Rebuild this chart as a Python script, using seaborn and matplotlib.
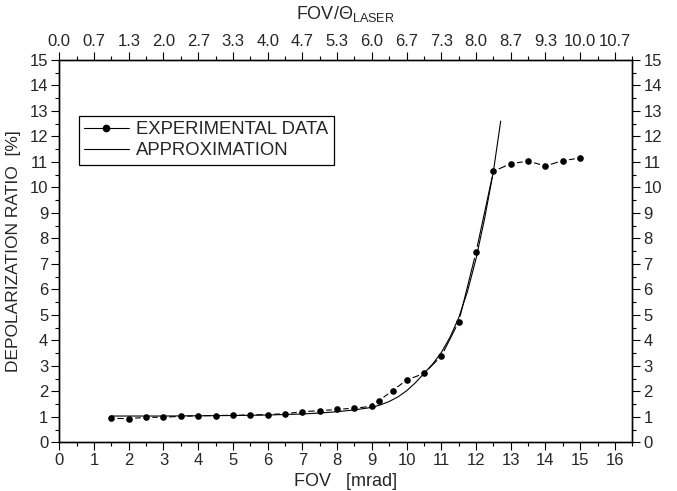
import matplotlib
matplotlib.use("Agg")
import matplotlib.pyplot as plt
from matplotlib.lines import Line2D
from matplotlib.ticker import MultipleLocator
import seaborn as sns
import pandas as pd

# ---- data ----
fov_exp = [1.5, 2.0, 2.5, 3.0, 3.5, 4.0, 4.5, 5.0, 5.5, 6.0, 6.5, 7.0, 7.5, 8.0,
           8.5, 9.0, 9.2, 9.6, 10.0, 10.5, 11.0, 11.5, 12.0, 12.5, 13.0, 13.5,
           14.0, 14.5, 15.0]
depol_exp = [0.94, 0.93, 0.98, 0.98, 1.02, 1.04, 1.05, 1.06, 1.07, 1.09, 1.12,
             1.20, 1.24, 1.29, 1.34, 1.41, 1.63, 2.03, 2.44, 2.70, 3.38, 4.72,
             7.46, 10.63, 10.93, 11.03, 10.84, 11.05, 11.15]

fov_fit = [1.5, 3.0, 4.0, 5.0, 6.0, 7.0, 7.5, 8.0, 8.5, 9.0, 9.25, 9.5, 9.75,
           10.0, 10.25, 10.5, 10.75, 11.0, 11.25, 11.5, 11.75, 12.0, 12.25,
           12.5, 12.71]
depol_fit = [1.03, 1.03, 1.04, 1.05, 1.07, 1.11, 1.15, 1.20, 1.27, 1.37, 1.47,
             1.60, 1.78, 2.02, 2.33, 2.70, 3.07, 3.52, 4.12, 4.88, 5.90, 7.20,
             8.80, 10.63, 12.60]

bottom_ticks = list(range(0, 17))
top_tick_labels = ["0.0", "0.7", "1.3", "2.0", "2.7", "3.3", "4.0", "4.7", "5.3",
                   "6.0", "6.7", "7.3", "8.0", "8.7", "9.3", "10.0", "10.7"]
y_ticks = list(range(0, 16))

legend_labels = ["EXPERIMENTAL DATA", "APPROXIMATION"]

# ---- style ----
sns.set_style("ticks")
plt.rcParams["font.family"] = ["Liberation Sans", "DejaVu Sans"]
plt.rcParams["mathtext.fontset"] = "custom"
plt.rcParams["mathtext.rm"] = "Liberation Sans"
plt.rcParams["mathtext.it"] = "Liberation Sans"
plt.rcParams["mathtext.sf"] = "Liberation Sans"

FS = 12

fig = plt.figure(figsize=(6.77, 4.91), dpi=100)
ax = fig.add_axes([0.0876, 0.0992, 0.934 - 0.0876, 0.878 - 0.0992])

df_exp = pd.DataFrame({"fov": fov_exp, "depol": depol_exp})
df_fit = pd.DataFrame({"fov": fov_fit, "depol": depol_fit})

# experimental line (with gaps around markers via white marker edges)
sns.lineplot(data=df_exp, x="fov", y="depol", ax=ax, color="black",
             linewidth=0.8, sort=False, zorder=2, legend=False)
sns.lineplot(data=df_exp, x="fov", y="depol", ax=ax, color="black",
             linewidth=0, marker="o", markersize=6.6, markerfacecolor="black",
             markeredgecolor="white", markeredgewidth=1.8, sort=False,
             zorder=3, legend=False)
# approximation
sns.lineplot(data=df_fit, x="fov", y="depol", ax=ax, color="black",
             linewidth=0.8, sort=False, zorder=4, legend=False)

ax.set_xlim(0, 16.5)
ax.set_ylim(0, 15)
ax.set_xticks(bottom_ticks)
ax.set_xticklabels([str(t) for t in bottom_ticks], fontsize=FS)
ax.set_yticks(y_ticks)
ax.set_yticklabels([str(t) for t in y_ticks], fontsize=FS)
ax.xaxis.set_minor_locator(MultipleLocator(0.5))
ax.yaxis.set_minor_locator(MultipleLocator(0.5))
ax.set_xlabel("FOV   [mrad]", fontsize=FS + 1, labelpad=3.5)
ax.set_ylabel("DEPOLARIZATION RATIO  [%]", fontsize=FS + 0.5)
ax.yaxis.set_label_coords(-0.066, 0.5)

for sp in ax.spines.values():
    sp.set_visible(True)
    sp.set_linewidth(0.9)
    sp.set_color("black")

tick_kw_major = dict(which="major", direction="out", length=5.5, width=0.8,
                     color="black", pad=2.5)
tick_kw_minor = dict(which="minor", direction="out", length=3, width=0.8,
                     color="black")
ax.tick_params(**tick_kw_major)
ax.tick_params(**tick_kw_minor)

# top axis
axt = ax.twiny()
axt.set_xlim(ax.get_xlim())
axt.set_xticks(bottom_ticks)
axt.set_xticklabels(top_tick_labels, fontsize=FS)
axt.xaxis.set_minor_locator(MultipleLocator(0.5))
axt.tick_params(**tick_kw_major)
axt.tick_params(**tick_kw_minor)
axt.set_xlabel(r"FOV/$\Theta_{\rm LASER}$", fontsize=FS + 1, labelpad=11)

# right axis
axr = ax.twinx()
axr.set_ylim(ax.get_ylim())
axr.set_yticks(y_ticks)
axr.set_yticklabels([str(t) for t in y_ticks], fontsize=FS)
axr.yaxis.set_minor_locator(MultipleLocator(0.5))
axr.tick_params(**tick_kw_major)
axr.tick_params(**tick_kw_minor)
for a in (axt, axr):
    for sp in a.spines.values():
        sp.set_linewidth(0.9)
        sp.set_color("black")

handles = [
    Line2D([], [], color="black", linewidth=0.8, marker="o", markersize=4.5,
           markerfacecolor="black", markeredgecolor="black"),
    Line2D([], [], color="black", linewidth=0.8),
]
leg = ax.legend(handles, legend_labels, loc="upper left",
                bbox_to_anchor=(0.034, 0.854), borderaxespad=0,
                fontsize=FS + 1.3, frameon=True, fancybox=False,
                edgecolor="black", framealpha=1, handlelength=2.4,
                handletextpad=0.4, labelspacing=0.2, borderpad=0.3)
leg.get_frame().set_linewidth(0.9)
leg.set_zorder(10)

fig.savefig("out.png", dpi=100)
